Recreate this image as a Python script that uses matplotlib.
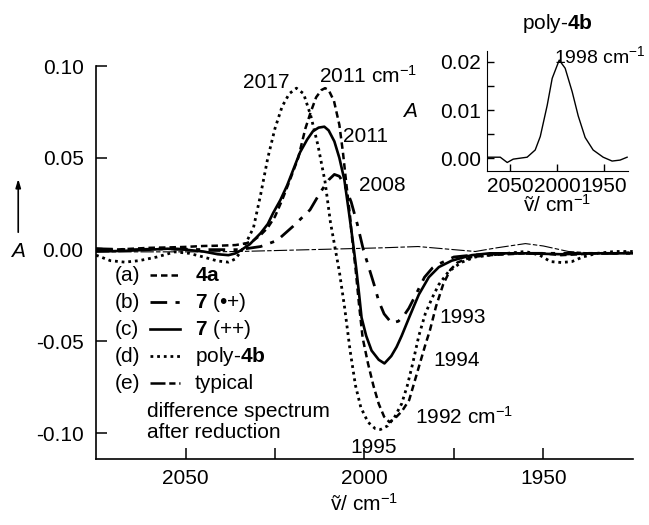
import matplotlib
matplotlib.use("Agg")
import matplotlib.pyplot as plt
from matplotlib.ticker import FixedLocator

plt.rcParams['font.family'] = ['Liberation Sans', 'DejaVu Sans']
plt.rcParams['mathtext.fontset'] = 'custom'
plt.rcParams['mathtext.rm'] = 'Liberation Sans'
plt.rcParams['mathtext.it'] = 'Liberation Sans:italic'
plt.rcParams['mathtext.bf'] = 'Liberation Sans:bold'
plt.rcParams['axes.unicode_minus'] = False

# (a) 4a  - dashed
wn_a = [2075, 2070, 2065, 2060, 2055, 2050, 2045, 2040, 2036, 2033, 2031, 2029, 2027, 2025,
        2023, 2021, 2018.5, 2016.5, 2015, 2013.5, 2012, 2011, 2010, 2008.5, 2007, 2006, 2005,
        2004, 2003.6, 2002.5, 2001.5, 2000.5, 1999, 1997.5, 1996, 1994.5, 1993, 1991.5, 1989.5,
        1987.5, 1986, 1984.5, 1983, 1981.7, 1980, 1978, 1976, 1974, 1970, 1965, 1960, 1955,
        1950, 1945, 1940, 1935, 1930, 1925]
A_a = [0.0005, 0.0, 0.0005, 0.001, 0.0012, 0.0015, 0.002, 0.0022, 0.0025, 0.0035, 0.005, 0.008,
       0.012, 0.018, 0.027, 0.037, 0.050, 0.066, 0.075, 0.083, 0.087, 0.088, 0.087, 0.081, 0.068,
       0.053, 0.035, 0.018, 0.009, -0.010, -0.030, -0.048, -0.062, -0.074, -0.084, -0.091, -0.094,
       -0.092, -0.088, -0.082, -0.072, -0.062, -0.052, -0.044, -0.031, -0.019, -0.011, -0.007,
       -0.004, -0.003, -0.0025, -0.002, -0.002, -0.003, -0.0025, -0.002, -0.002, -0.0015]

# (b) 7 (.+) - dash-dot
wn_b = [2075, 2065, 2055, 2045, 2035, 2029, 2024.4, 2019.9, 2015.2, 2012.4, 2010, 2008.4, 2007,
        2005.5, 2003.7, 2002, 2000.3, 1998.8, 1997.3, 1996, 1994.5, 1992.4, 1990.5, 1989, 1987.6,
        1985.5, 1983.2, 1981, 1979.2, 1975, 1970, 1960, 1950, 1940, 1925]
A_b = [0.0005, 0.0, 0.0005, 0.0, 0.0, 0.0017, 0.005, 0.0128, 0.0217, 0.031, 0.038, 0.041, 0.040,
       0.035, 0.026, 0.014, 0.0, -0.0095, -0.019, -0.028, -0.035, -0.040, -0.039, -0.036, -0.032,
       -0.024, -0.015, -0.010, -0.0078, -0.004, -0.003, -0.002, -0.002, -0.002, -0.002]

# (c) 7 (++) - solid
wn_c = [2075, 2070, 2065, 2060, 2055, 2050, 2045, 2041, 2038, 2036, 2034.5, 2032, 2029, 2027,
        2025.5, 2023.5, 2021.6, 2019.8, 2018, 2016, 2014.4, 2012.8, 2011.2, 2010, 2008.4, 2007,
        2005.6, 2004.3, 2003.2, 2002.3, 2001.5, 2000.8, 1999.5, 1998, 1996, 1994.4, 1992.5, 1991,
        1989.6, 1987.5, 1986, 1984.8, 1982, 1979.2, 1975.6, 1970, 1965, 1955, 1945, 1935, 1925]
A_c = [-0.001, -0.0008, -0.0005, 0.0, 0.0005, 0.0, -0.001, -0.0025, -0.003, -0.002, -0.0003,
       0.003, 0.009, 0.014, 0.020, 0.027, 0.035, 0.044, 0.053, 0.060, 0.0645, 0.0665, 0.067,
       0.065, 0.059, 0.050, 0.038, 0.020, 0.004, -0.010, -0.024, -0.037, -0.047, -0.055, -0.060,
       -0.062, -0.058, -0.053, -0.047, -0.037, -0.030, -0.0245, -0.015, -0.0095, -0.006, -0.003,
       -0.002, -0.002, -0.0025, -0.002, -0.002]

# (d) poly-4b - dotted
wn_d = [2075, 2071, 2067, 2063, 2058, 2053, 2049, 2045, 2041, 2038, 2036, 2034, 2032.5, 2031,
        2029, 2027, 2025, 2023, 2021, 2019, 2017, 2015, 2013, 2011, 2009.5, 2008.3, 2007, 2005.5,
        2004, 2002.5, 2001, 1999, 1997, 1995.5, 1993.5, 1991.5, 1989.6, 1988, 1986.5, 1984.8,
        1983, 1981, 1979.2, 1976.5, 1973, 1969, 1965, 1960, 1955, 1951, 1948, 1945, 1942, 1939,
        1935, 1930, 1925]
A_d = [-0.003, -0.006, -0.0068, -0.006, -0.004, -0.0012, -0.002, -0.004, -0.0062, -0.0068,
       -0.005, 0.0005, 0.006, 0.012, 0.030, 0.050, 0.066, 0.078, 0.085, 0.088, 0.085, 0.073,
       0.057, 0.037, 0.015, 0.002, -0.012, -0.032, -0.055, -0.074, -0.086, -0.094, -0.0975,
       -0.098, -0.096, -0.091, -0.084, -0.074, -0.062, -0.047, -0.035, -0.026, -0.019, -0.012,
       -0.007, -0.004, -0.003, -0.002, -0.001, -0.003, -0.0065, -0.007, -0.0065, -0.004, -0.002,
       -0.001, -0.001]

# (e) typical difference spectrum after reduction - thin long dash
wn_e = [2075, 2060, 2045, 2035, 2025, 2015, 2005, 1995, 1985, 1975, 1969, 1963, 1955, 1950,
        1943, 1935, 1925]
A_e = [-0.0012, -0.0012, -0.0012, -0.001, -0.0005, 0.0, 0.0005, 0.001, 0.0017, 0.0, -0.001,
       0.001, 0.0033, 0.002, -0.001, -0.002, -0.002]

# inset: poly-4b
wn_in = [2074.5, 2060.6, 2053.2, 2046.8, 2032, 2023.4, 2018, 2010.6, 2005.3, 1997.8, 1991.5,
         1984, 1977.6, 1970.2, 1961.7, 1951, 1941.5, 1933, 1925.5]
A_in = [0.0002, 0.0002, -0.0009, -0.0002, 0.0002, 0.0017, 0.0045, 0.011, 0.0166, 0.0204, 0.0187,
        0.0138, 0.0088, 0.0043, 0.0017, 0.0002, -0.0006, -0.0004, 0.0002]

# peak labels: (text, wavenumber, absorbance, ha)
peak_labels = [
    ("2017", 2021, 0.091, "right"),
    ("2011 cm$^{-1}$", 2012.6, 0.0945, "left"),
    ("2011", 2005.9, 0.0617, "left"),
    ("2008", 2001.4, 0.035, "left"),
    ("1993", 1979, -0.037, "left"),
    ("1994", 1980.6, -0.0606, "left"),
    ("1992 cm$^{-1}$", 1986, -0.091, "left"),
    ("1995", 1997.5, -0.108, "center"),
]

styles = [
    dict(ls=(0, (2.6, 1.6)), lw=1.8),
    dict(ls=(0, (6, 3, 1.5, 3)), lw=2.0),
    dict(ls="-", lw=1.9),
    dict(ls=(0, (1, 1.4)), lw=2.0),
    dict(ls=(0, (12, 2, 4, 2)), lw=0.8),
]
legend_styles = styles[:4] + [dict(ls=(0, (6, 1.5, 2.5, 1.5)), lw=1.8)]
series = [(wn_a, A_a), (wn_b, A_b), (wn_c, A_c), (wn_d, A_d), (wn_e, A_e)]
legend_rows = [("(a)", "$\\mathbf{4a}$"), ("(b)", "$\\mathbf{7}$ (•+)"),
               ("(c)", "$\\mathbf{7}$ (++)"), ("(d)", "poly-$\\mathbf{4b}$"),
               ("(e)", "typical")]
nu_label = "ṽ/ cm$^{-1}$"

fs = 15
fig = plt.figure(figsize=(6.49, 5.25), dpi=100)
ax = fig.add_axes([0.148, 0.126, 0.827, 0.748])

for (x, y), st in zip(series, styles):
    ax.plot(x, y, color="black", **st)

for txt, x, y, ha in peak_labels:
    ax.text(x, y, txt, ha=ha, va="center", fontsize=fs)

ax.set_xlim(2075, 1925)
ax.set_ylim(-0.114, 0.10)
ax.xaxis.set_major_locator(FixedLocator([2050, 2000, 1950]))
ax.xaxis.set_minor_locator(FixedLocator([2025, 1975]))
ax.set_yticks([-0.10, -0.05, 0.0, 0.05, 0.10])
ax.set_yticklabels(["-0.10", "-0.05", "0.00", "0.05", "0.10"])
ax.tick_params(direction="in", length=8, width=1.1, labelsize=fs)
ax.tick_params(axis="y", pad=9)
ax.tick_params(axis="x", pad=7)
ax.tick_params(axis="x", which="minor", direction="in", length=8, width=1.1)
for s in ["top", "right"]:
    ax.spines[s].set_visible(False)
for s in ["left", "bottom"]:
    ax.spines[s].set_linewidth(1.2)
ax.set_xlabel(nu_label, fontsize=fs, labelpad=4)

# y label with arrow
ax.annotate("", xy=(-0.145, 0.72), xytext=(-0.145, 0.57), xycoords="axes fraction",
            arrowprops=dict(arrowstyle="-|>,head_length=0.5,head_width=0.15", lw=1.2, color="black"))
ax.text(-0.145, 0.527, "$\\mathit{A}$", transform=ax.transAxes, ha="center", va="center",
        fontsize=fs)

# legend drawn by hand
y0, dy = 0.468, 0.069
for i, ((tag, lab), st) in enumerate(zip(legend_rows, legend_styles)):
    yy = y0 - i * dy
    ax.text(0.035, yy, tag, transform=ax.transAxes, ha="left", va="center", fontsize=fs)
    ax.plot([0.101, 0.156], [yy, yy], transform=ax.transAxes, color="black", **st)
    ax.text(0.184, yy, lab, transform=ax.transAxes, ha="left", va="center", fontsize=fs)
ax.text(0.095, 0.120, "difference spectrum", transform=ax.transAxes, ha="left", va="center",
        fontsize=fs)
ax.text(0.095, 0.066, "after reduction", transform=ax.transAxes, ha="left", va="center",
        fontsize=fs)

# inset
ins = fig.add_axes([0.750, 0.674, 0.217, 0.229])
ins.plot(wn_in, A_in, color="black", lw=1.0)
ins.set_xlim(2075, 1925)
ins.set_ylim(-0.0027, 0.0223)
ins.set_xticks([2050, 2000, 1950])
ins.set_yticks([0.0, 0.01, 0.02])
ins.set_yticklabels(["0.00", "0.01", "0.02"])
ins.yaxis.set_minor_locator(FixedLocator([0.005, 0.015]))
ins.tick_params(direction="in", length=5, width=1.0, labelsize=fs, pad=4)
ins.tick_params(axis="y", which="minor", direction="in", length=5, width=1.0)
for s in ["top", "right"]:
    ins.spines[s].set_visible(False)
ins.set_xlabel(nu_label, fontsize=fs, labelpad=-1)
ins.set_ylabel("$\\mathit{A}$", fontsize=fs, rotation=0, labelpad=22, va="center")
ins.set_title("poly-$\\mathbf{4b}$", fontsize=fs, pad=16)
ins.text(2003, 0.0213, "1998 cm$^{-1}$", ha="left", va="center", fontsize=14)

fig.savefig("out.png", dpi=100)
